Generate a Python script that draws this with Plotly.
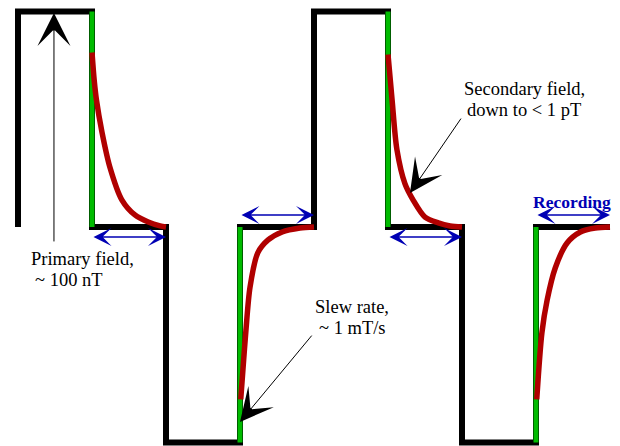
import plotly.graph_objects as go

# ---- data -------------------------------------------------------------
# square-wave primary field: transition times (half-period units) and levels
step_times = [0, 0, 1, 2, 3, 4, 5, 6, 7, 8]
step_levels = [0, 1, 0, -1, 0, 1, 0, -1, 0, 0]

# switch-off ramps (green): time and level range
ramp_times = [1, 3, 5, 7]
ramp_from = [1, 0, 1, 0]
ramp_to = [0, -1, 0, -1]

# secondary-field decays (red): offsets from ramp time, values
decay1_dt = [0.0, 0.03, 0.06, 0.135, 0.24, 0.405, 0.58, 0.76, 0.92, 1.0]
decay1_v = [0.81, 0.68, 0.59, 0.44, 0.28, 0.125, 0.056, 0.023, 0.005, 0.0]
decay2_dt = [0.01, 0.04, 0.08, 0.135, 0.24, 0.38, 0.57, 0.81, 1.0]
decay2_v = [-0.80, -0.66, -0.48, -0.28, -0.12, -0.06, -0.023, -0.005, 0.0]
decay3_dt = [0.0, 0.055, 0.12, 0.23, 0.34, 0.5, 0.68, 0.84, 1.0]
decay3_v = [0.80, 0.59, 0.36, 0.20, 0.125, 0.046, 0.019, 0.005, 0.0]
decay4_dt = [0.01, 0.08, 0.15, 0.26, 0.42, 0.6, 0.8, 1.0]
decay4_v = [-0.80, -0.49, -0.34, -0.19, -0.074, -0.023, -0.005, 0.0]

# recording windows (blue double arrows): start, end, side (-1 below, +1 above)
rec_start = [1, 3, 5, 7]
rec_end = [2, 4, 6, 8]
rec_side = [-1, 1, -1, 1]

BLACK = "#000000"
GREEN = "#00bb00"
RED = "#b00000"
BLUE = "#0000b4"
SERIF = "Liberation Serif, Times New Roman, serif"

fig = go.Figure()

fig.add_trace(go.Scatter(x=step_times, y=step_levels, mode="lines",
                         line=dict(color=BLACK, width=6, shape="hv"),
                         hoverinfo="skip"))

for t, a, b in zip(ramp_times, ramp_from, ramp_to):
    fig.add_trace(go.Scatter(x=[t, t], y=[a, b], mode="lines",
                             line=dict(color=GREEN, width=5), hoverinfo="skip"))

for t, dts, vs in zip(ramp_times,
                      [decay1_dt, decay2_dt, decay3_dt, decay4_dt],
                      [decay1_v, decay2_v, decay3_v, decay4_v]):
    fig.add_trace(go.Scatter(x=[t + d for d in dts], y=vs, mode="lines",
                             line=dict(color=RED, width=5.5, shape="spline", smoothing=0.8),
                             hoverinfo="skip"))

ann = []
for s, e, side in zip(rec_start, rec_end, rec_side):
    yv = 0.056 if side > 0 else -0.046
    ann.append(dict(x=e, y=yv, ax=s, ay=yv, xref="x", yref="y", axref="x", ayref="y",
                    text="", showarrow=True, arrowhead=3, startarrowhead=3,
                    arrowside="end+start", arrowsize=2.0, startarrowsize=2.0,
                    arrowwidth=1.5, arrowcolor=BLUE, standoff=0, startstandoff=0))

# black annotation arrows
for tip, tail in [((0.486, 0.993), (0.486, -0.074)),
                  ((5.297, 0.158), (6.0, 0.51)),
                  ((3.0, -0.905), (3.986, -0.497))]:
    ann.append(dict(x=tip[0], y=tip[1], ax=tail[0], ay=tail[1], xref="x", yref="y",
                    axref="x", ayref="y", text="", showarrow=True, arrowhead=3,
                    arrowsize=5.5, arrowwidth=1, arrowcolor=BLACK, standoff=0))

txt = dict(xref="x", yref="y", showarrow=False, yanchor="middle",
           font=dict(family=SERIF, size=18.5, color=BLACK))
ann.append(dict(x=0.149, y=-0.148, text="Primary field,", xanchor="left", **txt))
ann.append(dict(x=0.203, y=-0.245, text="~ 100 nT", xanchor="left", **txt))
ann.append(dict(x=6.838, y=0.642, text="Secondary field,", xanchor="center", **txt))
ann.append(dict(x=6.838, y=0.545, text="down to &lt; 1 pT", xanchor="center", **txt))
ann.append(dict(x=4.52, y=-0.372, text="Slew rate,", xanchor="center", **txt))
ann.append(dict(x=4.52, y=-0.469, text="~ 1 mT/s", xanchor="center", **txt))
ann.append(dict(x=7.48, y=0.116, text="<b>Recording</b>", xanchor="center", xref="x", yref="y",
                showarrow=False, yanchor="middle",
                font=dict(family=SERIF, size=17.5, color=BLUE)))

# page has an 8px body margin: plot covers page pixels 8..620 x 8..446
fig.update_layout(
    width=612, height=438,
    margin=dict(l=0, r=0, t=0, b=0, pad=0),
    paper_bgcolor="white", plot_bgcolor="white",
    showlegend=False,
    xaxis=dict(visible=False, range=[-10 / 74, 602 / 74]),
    yaxis=dict(visible=False, range=[-219 / 215.5, 219 / 215.5]),
    annotations=ann,
)

fig.write_html("out.html")
